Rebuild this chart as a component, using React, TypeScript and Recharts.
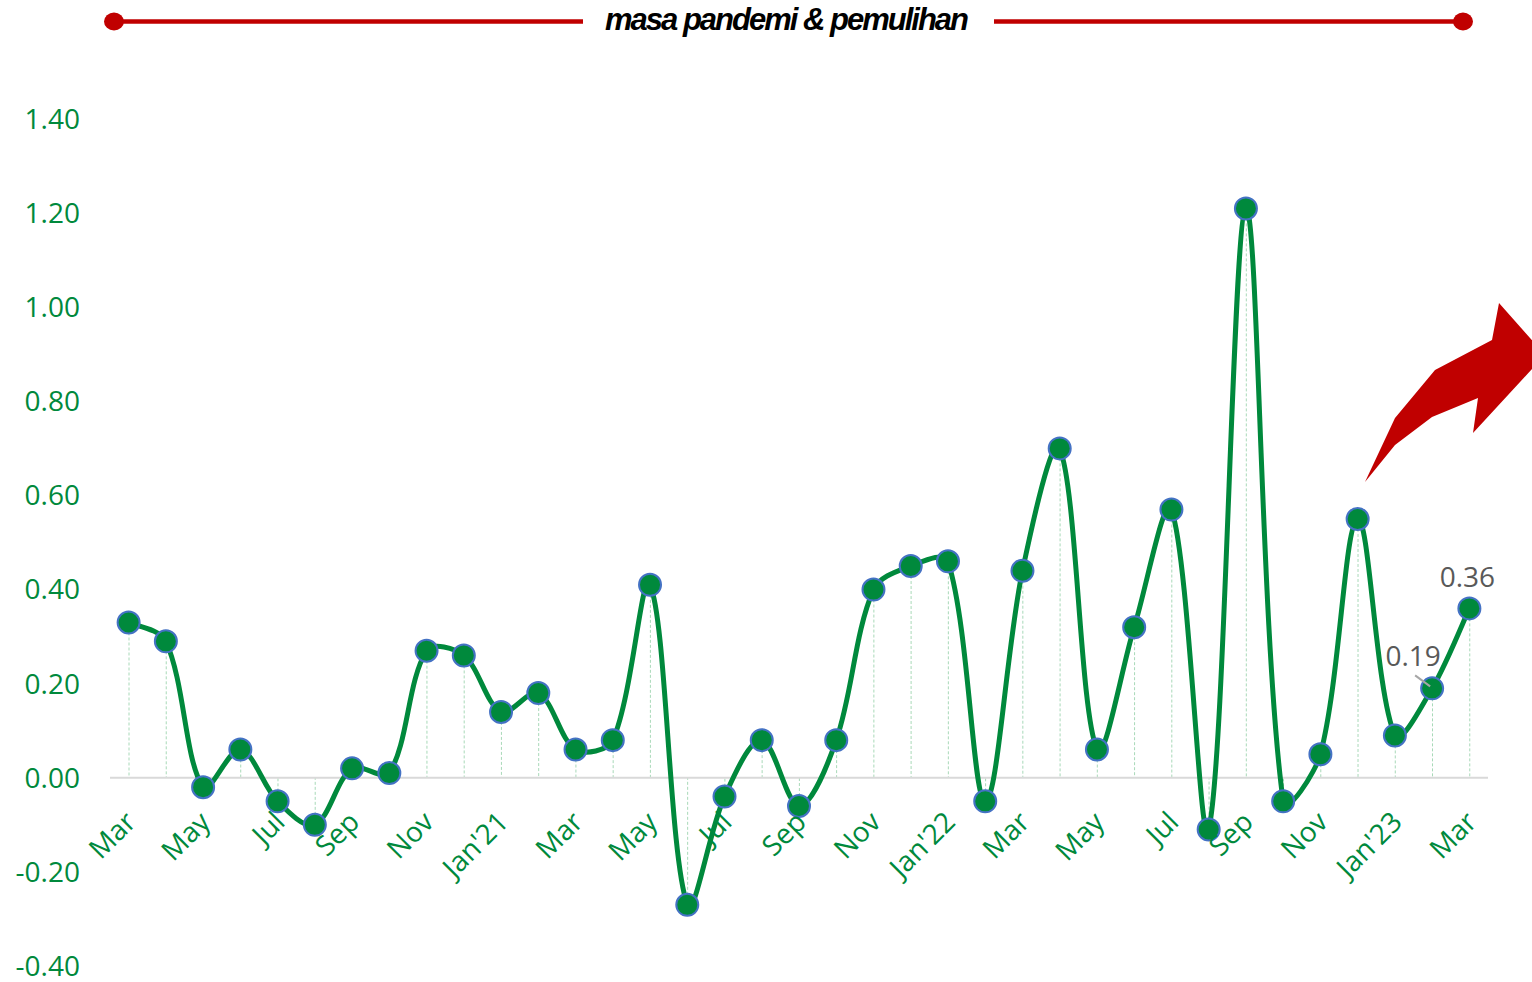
import React from "react";
import { ComposedChart, Line, Bar, XAxis, YAxis, ReferenceLine, LabelList } from "recharts";

const categories = [
  "2020-03","2020-04","2020-05","2020-06","2020-07","2020-08","2020-09","2020-10","2020-11","2020-12",
  "2021-01","2021-02","2021-03","2021-04","2021-05","2021-06","2021-07","2021-08","2021-09","2021-10","2021-11","2021-12",
  "2022-01","2022-02","2022-03","2022-04","2022-05","2022-06","2022-07","2022-08","2022-09","2022-10","2022-11","2022-12",
  "2023-01","2023-02","2023-03",
];
const tickLabels = [
  "Mar","Apr","May","Jun","Jul","Aug","Sep","Oct","Nov","Dec",
  "Jan'21","Feb","Mar","Apr","May","Jun","Jul","Aug","Sep","Oct","Nov","Dec",
  "Jan'22","Feb","Mar","Apr","May","Jun","Jul","Aug","Sep","Oct","Nov","Dec",
  "Jan'23","Feb","Mar",
];
const values = [
  0.33, 0.29, -0.02, 0.06, -0.05, -0.10, 0.02, 0.01, 0.27, 0.26,
  0.14, 0.18, 0.06, 0.08, 0.41, -0.27, -0.04, 0.08, -0.06, 0.08, 0.40, 0.45,
  0.46, -0.05, 0.44, 0.70, 0.06, 0.32, 0.57, -0.11, 1.21, -0.05, 0.05, 0.55,
  0.09, 0.19, 0.36,
];
const yTicks = [-0.4, -0.2, 0, 0.2, 0.4, 0.6, 0.8, 1.0, 1.2, 1.4];
const labeledIndices = [35, 36];
const title = "masa pandemi & pemulihan";

const data = categories.map((c, i) => ({ month: c, value: values[i] }));

const W = 1532;
const H = 982;
const MARGIN = { top: 119, right: 44, bottom: 15, left: 10 };
const X_AXIS_H = 1;
const Y_MIN = -0.4;
const Y_MAX = 1.4;
const PLOT_H = H - MARGIN.top - MARGIN.bottom - X_AXIS_H;
const ZERO_Y = MARGIN.top + (Y_MAX / (Y_MAX - Y_MIN)) * PLOT_H;

const GREEN = "#00893C";
const RED = "#C00000";
const FONT = "'Open Sans', 'Noto Sans', sans-serif";

// Excel-like smoothed line: Bezier with tangents scaled by adjacent chord lengths
function excelCurve(context: any) {
  let xs: number[] = [];
  let ys: number[] = [];
  const dist = (a: number, b: number) => Math.hypot(xs[b] - xs[a], ys[b] - ys[a]);
  return {
    areaStart() {},
    areaEnd() {},
    lineStart() {
      xs = [];
      ys = [];
    },
    point(x: number, y: number) {
      xs.push(+x);
      ys.push(+y);
    },
    lineEnd() {
      const n = xs.length;
      if (!n) return;
      context.moveTo(xs[0], ys[0]);
      for (let i = 0; i < n - 1; i++) {
        const i0 = Math.max(i - 1, 0);
        const i3 = Math.min(i + 2, n - 1);
        const d01 = dist(i0, i);
        const d12 = dist(i, i + 1);
        const d23 = dist(i + 1, i3);
        const s1 = d01 + d12 > 0 ? d12 / (d01 + d12) / 3 : 0;
        const s2 = d12 + d23 > 0 ? d12 / (d12 + d23) / 3 : 0;
        const k1 = i0 === i ? 1 / 6 : s1;
        const k2 = i3 === i + 1 ? 1 / 6 : s2;
        const c1x = xs[i] + (xs[i + 1] - xs[i0]) * k1;
        const c1y = ys[i] + (ys[i + 1] - ys[i0]) * k1;
        const c2x = xs[i + 1] - (xs[i3] - xs[i]) * k2;
        const c2y = ys[i + 1] - (ys[i3] - ys[i]) * k2;
        context.bezierCurveTo(c1x, c1y, c2x, c2y, xs[i + 1], ys[i + 1]);
      }
    },
  };
}

const DropLine = (props: any) => {
  const { x, y, width, height } = props;
  if (x == null || y == null) return null;
  const cx = x + width / 2;
  return (
    <line x1={cx} x2={cx} y1={y} y2={y + height} stroke="#a8d9b8" strokeWidth={1} strokeDasharray="3 2" />
  );
};

const XTick = (props: any) => {
  const { x, payload } = props;
  const idx = categories.indexOf(payload && payload.value);
  if (idx < 0 || idx % 2 !== 0) return null;
  return (
    <text
      transform={`translate(${x + 2},${ZERO_Y + 39}) rotate(-45)`}
      textAnchor="end"
      dy="0.35em"
      fill={GREEN}
      fontSize={28}
      fontFamily={FONT}
    >
      {tickLabels[idx]}
    </text>
  );
};

const DataLabel = (props: any) => {
  const { x, y, index, value } = props;
  if (!labeledIndices.includes(index)) return null;
  const txt = Number(value).toFixed(2);
  if (index === 35) {
    return (
      <g>
        <line x1={x - 17} y1={y - 13} x2={x - 2} y2={y - 2} stroke="#a6a6a6" strokeWidth={2} />
        <text x={x - 19} y={y - 22} textAnchor="middle" fill="#595959" fontSize={28} fontFamily={FONT}>
          {txt}
        </text>
      </g>
    );
  }
  return (
    <text x={x - 2} y={y - 21} textAnchor="middle" fill="#595959" fontSize={28} fontFamily={FONT}>
      {txt}
    </text>
  );
};

export default function App() {
  return (
    <div style={{ position: "absolute", left: 0, top: 0, width: W, height: H, background: "#fff" }}>
      <ComposedChart width={W} height={H} data={data} margin={MARGIN}>
        <XAxis
          dataKey="month"
          interval={0}
          height={X_AXIS_H}
          axisLine={false}
          tickLine={false}
          tick={(p: any) => <XTick {...p} />}
        />
        <YAxis
          type="number"
          domain={[Y_MIN, Y_MAX]}
          ticks={yTicks}
          interval={0}
          width={100}
          axisLine={false}
          tickLine={false}
          tickSize={0}
          tickMargin={30}
          tickFormatter={(v: number) => v.toFixed(2)}
          tick={{ fill: GREEN, fontSize: 28, fontFamily: FONT }}
        />
        <ReferenceLine y={0} stroke="#d9d9d9" strokeWidth={2} />
        <Bar dataKey="value" barSize={2} shape={<DropLine />} isAnimationActive={false} />
        <Line
          dataKey="value"
          type={excelCurve as any}
          stroke={GREEN}
          strokeWidth={5}
          dot={{ r: 11, fill: GREEN, stroke: "#4472C4", strokeWidth: 2 }}
          activeDot={false}
          isAnimationActive={false}
        >
          <LabelList dataKey="value" content={<DataLabel />} />
        </Line>
      </ComposedChart>
      <svg
        width={W}
        height={H}
        style={{ position: "absolute", left: 0, top: 0, pointerEvents: "none" }}
      >
        <line x1={114} y1={21.5} x2={583} y2={21.5} stroke={RED} strokeWidth={4.5} />
        <ellipse cx={114} cy={21.5} rx={10} ry={9} fill={RED} />
        <line x1={994} y1={21.5} x2={1463} y2={21.5} stroke={RED} strokeWidth={4.5} />
        <ellipse cx={1463} cy={21.5} rx={10} ry={9} fill={RED} />
        <text
          x={786}
          y={30}
          textAnchor="middle"
          fontFamily="'Liberation Sans', Arial, sans-serif"
          fontWeight="bold"
          fontStyle="italic"
          fontSize={31}
          letterSpacing={-2}
          fill="#000"
        >
          {title}
        </text>
        <polygon
          points="1365,482 1395,418 1435,370 1492,340 1499,303 1545,355 1473,433 1478,398 1432,417 1395,445"
          fill={RED}
        />
      </svg>
    </div>
  );
}
